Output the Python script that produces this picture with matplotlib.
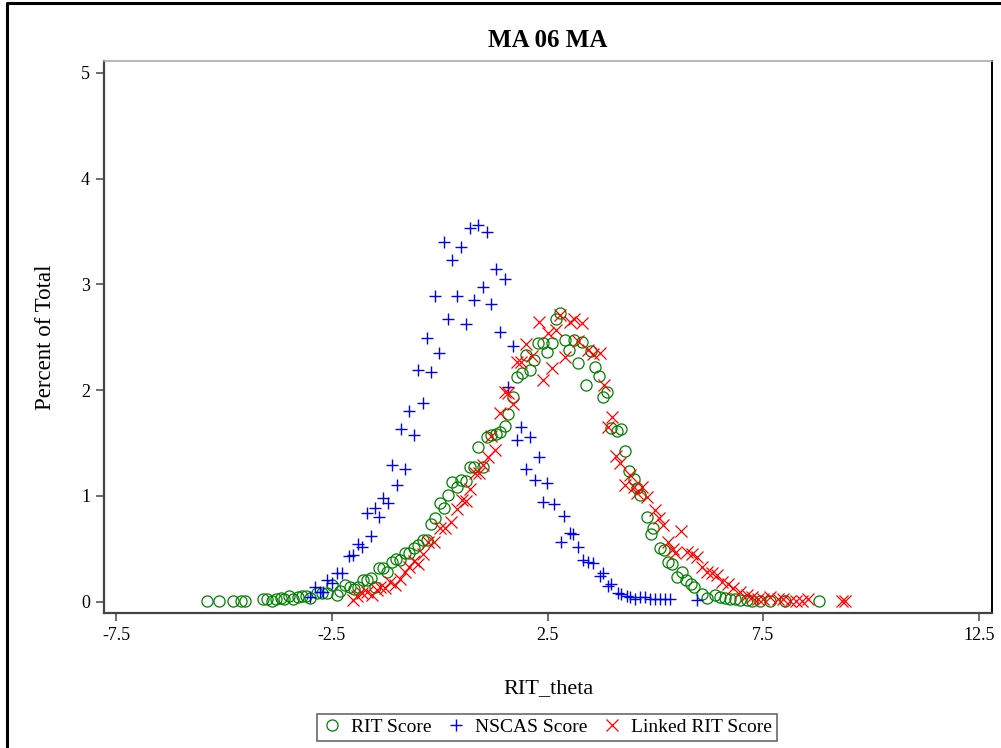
import matplotlib
matplotlib.use("Agg")
import matplotlib.pyplot as plt
from matplotlib.lines import Line2D

plt.rcParams['font.family'] = ['Liberation Serif', 'DejaVu Serif']

title = "MA 06 MA"
xlabel = "RIT_theta"
ylabel = "Percent of Total"
xticks = [-7.5, -2.5, 2.5, 7.5, 12.5]
xtick_labels = ["-7.5", "-2.5", "2.5", "7.5", "12.5"]
yticks = [0, 1, 2, 3, 4, 5]

rit_x = [-5.40, -5.11, -4.80, -4.62, -4.51, -4.11, -4.00, -3.90, -3.80, -3.69, -3.61, -3.50,
         -3.40, -3.29, -3.20, -3.10, -3.01, -2.85, -2.74, -2.62, -2.51, -2.39, -2.31, -2.20,
         -2.08, -1.99, -1.89, -1.79, -1.69, -1.60, -1.50, -1.40, -1.31, -1.22, -1.12, -1.02,
         -0.92, -0.81, -0.71, -0.60, -0.50, -0.40, -0.30, -0.20, -0.11, 0.00, 0.09, 0.20,
         0.29, 0.40, 0.49, 0.60, 0.70, 0.80, 0.89, 0.99, 1.10, 1.19, 1.30, 1.40, 1.50, 1.59,
         1.70, 1.80, 1.90, 2.00, 2.09, 2.19, 2.28, 2.39, 2.48, 2.59, 2.69, 2.79, 2.90, 3.00,
         3.10, 3.20, 3.30, 3.39, 3.51, 3.60, 3.70, 3.79, 3.88, 3.97, 4.10, 4.19, 4.30, 4.39,
         4.49, 4.58, 4.64, 4.80, 4.89, 4.95, 5.10, 5.20, 5.30, 5.39, 5.49, 5.61, 5.70, 5.82,
         5.89, 6.07, 6.19, 6.38, 6.50, 6.61, 6.73, 6.84, 6.96, 7.12, 7.23, 7.42, 7.65, 8.00, 8.78]
rit_y = [0.009, 0.009, 0.009, 0.009, 0.009, 0.023, 0.023, 0.009, 0.023, 0.032, 0.023, 0.054,
         0.023, 0.047, 0.054, 0.054, 0.032, 0.085, 0.085, 0.085, 0.158, 0.063, 0.104, 0.158,
         0.136, 0.117, 0.142, 0.205, 0.205, 0.221, 0.142, 0.316, 0.316, 0.284, 0.378, 0.401,
         0.395, 0.458, 0.464, 0.505, 0.536, 0.584, 0.584, 0.735, 0.789, 0.937, 0.884, 1.009,
         1.135, 1.088, 1.151, 1.145, 1.277, 1.277, 1.466, 1.277, 1.555, 1.577, 1.587, 1.608,
         1.662, 1.776, 1.934, 2.123, 2.167, 2.334, 2.192, 2.287, 2.445, 2.445, 2.365, 2.445,
         2.672, 2.728, 2.476, 2.381, 2.476, 2.255, 2.454, 2.050, 2.375, 2.218, 2.135, 1.939,
         1.987, 1.640, 1.618, 1.631, 1.429, 1.239, 1.158, 1.073, 1.009, 0.798, 0.638, 0.694,
         0.505, 0.489, 0.378, 0.354, 0.237, 0.284, 0.205, 0.167, 0.142, 0.073, 0.032, 0.063,
         0.042, 0.032, 0.023, 0.023, 0.016, 0.016, 0.009, 0.009, 0.009, 0.009, 0.009]

nscas_x = [-3.01, -2.89, -2.78, -2.71, -2.62, -2.50, -2.39, -2.27, -2.11, -2.01, -1.90, -1.80,
           -1.68, -1.59, -1.50, -1.41, -1.32, -1.20, -1.11, -0.99, -0.90, -0.81, -0.71, -0.60,
           -0.51, -0.40, -0.30, -0.20, -0.11, -0.01, 0.10, 0.19, 0.29, 0.40, 0.49, 0.60, 0.70,
           0.79, 0.89, 0.99, 1.09, 1.19, 1.30, 1.39, 1.50, 1.58, 1.69, 1.79, 1.89, 2.00, 2.09,
           2.21, 2.30, 2.39, 2.49, 2.65, 2.80, 2.88, 3.02, 3.09, 3.21, 3.32, 3.44, 3.55, 3.71,
           3.78, 3.90, 3.97, 4.13, 4.20, 4.33, 4.41, 4.53, 4.64, 4.76, 4.87, 4.99, 5.11, 5.22,
           5.34, 5.96]
nscas_y = [0.044, 0.139, 0.092, 0.092, 0.205, 0.177, 0.272, 0.272, 0.432, 0.442, 0.546, 0.518,
           0.839, 0.622, 0.886, 0.801, 0.981, 0.934, 1.293, 1.104, 1.634, 1.255, 1.804, 1.577,
           2.192, 1.880, 2.495, 2.173, 2.892, 2.353, 3.397, 2.675, 3.233, 2.892, 3.350, 2.627,
           3.535, 2.854, 3.559, 2.977, 3.498, 2.816, 3.148, 2.552, 3.053, 2.031, 2.414, 1.530,
           1.653, 1.255, 1.558, 1.151, 1.369, 0.943, 1.123, 0.924, 0.560, 0.811, 0.650, 0.640,
           0.518, 0.394, 0.376, 0.366, 0.243, 0.267, 0.149, 0.167, 0.082, 0.068, 0.054, 0.042,
           0.023, 0.047, 0.042, 0.023, 0.023, 0.023, 0.023, 0.023, 0.016]

linked_x = [-2.01, -1.93, -1.81, -1.69, -1.58, -1.46, -1.39, -1.27, -1.15, -1.04, -0.92, -0.81,
            -0.71, -0.60, -0.51, -0.39, -0.27, -0.13, 0.00, 0.12, 0.26, 0.39, 0.51, 0.61, 0.70,
            0.82, 0.91, 1.00, 1.11, 1.19, 1.29, 1.40, 1.50, 1.59, 1.70, 1.79, 1.88, 2.00, 2.14,
            2.30, 2.40, 2.50, 2.59, 2.69, 2.79, 2.91, 3.02, 3.10, 3.20, 3.29, 3.44, 3.56, 3.71,
            3.81, 3.90, 3.99, 4.09, 4.18, 4.29, 4.41, 4.49, 4.58, 4.68, 4.81, 4.99, 5.09, 5.18,
            5.30, 5.41, 5.45, 5.59, 5.72, 5.84, 5.96, 6.07, 6.19, 6.30, 6.42, 6.54, 6.69, 6.80,
            6.96, 7.12, 7.23, 7.37, 7.48, 7.66, 7.84, 7.96, 8.12, 8.26, 8.39, 8.54, 9.32, 9.39]
linked_y = [0.016, 0.054, 0.079, 0.095, 0.063, 0.111, 0.142, 0.127, 0.189, 0.158, 0.215, 0.281,
            0.328, 0.385, 0.357, 0.451, 0.565, 0.568, 0.694, 0.694, 0.754, 0.877, 0.962, 0.953,
            1.063, 1.215, 1.218, 1.293, 1.369, 1.563, 1.435, 1.785, 1.979, 1.970, 1.870, 2.268,
            2.263, 2.438, 2.325, 2.641, 2.093, 2.542, 2.208, 2.571, 2.712, 2.318, 2.646, 2.675,
            2.466, 2.637, 2.381, 2.339, 2.356, 2.045, 1.656, 1.747, 1.378, 1.309, 1.104, 1.199,
            1.088, 1.026, 1.088, 0.993, 0.868, 0.789, 0.726, 0.568, 0.496, 0.460, 0.669, 0.473,
            0.451, 0.420, 0.325, 0.284, 0.274, 0.253, 0.189, 0.167, 0.127, 0.095, 0.063, 0.049,
            0.027, 0.027, 0.040, 0.023, 0.026, 0.011, 0.011, 0.011, 0.023, 0.011, 0.011]

fig = plt.figure(figsize=(10.01, 7.48), dpi=100)
ax = fig.add_axes([104/1001, 1 - 613/748, (992 - 104)/1001, (613 - 60.5)/748])

ax.plot(rit_x, rit_y, linestyle='none', marker='o', markersize=8, markerfacecolor='none',
        markeredgecolor='#008000', markeredgewidth=0.9, label='RIT Score')
ax.plot(nscas_x, nscas_y, linestyle='none', marker='+', markersize=9,
        markeredgecolor='#0000ff', markeredgewidth=1.0, label='NSCAS Score')
ax.plot(linked_x, linked_y, linestyle='none', marker='x', markersize=8,
        markeredgecolor='#ff0000', markeredgewidth=0.9, label='Linked RIT Score')

ax.set_xlim(-7.785, 12.80)
ax.set_ylim(-0.107, 5.118)
ax.set_xticks(xticks)
ax.set_xticklabels(xtick_labels)
ax.set_yticks(yticks)
ax.tick_params(axis='both', direction='out', length=6, width=1.2, color='#555555',
               labelsize=13, pad=4)

for side in ['left', 'bottom']:
    ax.spines[side].set_color('#444444')
    ax.spines[side].set_linewidth(1.6)
ax.spines['top'].set_color('#aaaaaa')
ax.spines['top'].set_linewidth(1.2)
ax.spines['right'].set_color('#000000')
ax.spines['right'].set_linewidth(1.4)

ax.set_title(title, fontsize=18, fontweight='bold', pad=10)
ax.set_xlabel(xlabel, fontsize=16, labelpad=25)
ax.set_ylabel(ylabel, fontsize=16.5, labelpad=18)

leg = fig.legend(loc='lower center', bbox_to_anchor=(547/1001, 1 - 741/748), ncol=3,
                 frameon=True, fontsize=14, handlelength=1.0, handletextpad=0.5,
                 columnspacing=0.75, borderpad=0.25, borderaxespad=0, fancybox=False)
leg.get_frame().set_edgecolor('#444444')
leg.get_frame().set_linewidth(1.2)

# outer frame (partial, as cropped)
fig.add_artist(Line2D([7/1001, 7/1001, 1.0], [0.0, 1 - 3/748, 1 - 3/748],
                      transform=fig.transFigure, color='black', linewidth=2.2))

fig.savefig('out.png', dpi=100)
